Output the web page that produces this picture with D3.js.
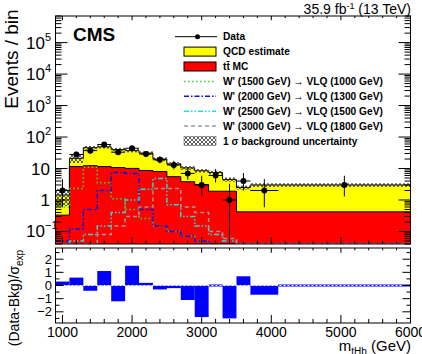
<!DOCTYPE html>
<html><head><meta charset="utf-8">
<script src="https://cdn.jsdelivr.net/npm/d3@7"></script>
<style>
body{margin:0;background:#fff;}
svg{display:block;font-family:"Liberation Sans",Arial,Helvetica,sans-serif;}
</style></head>
<body><svg id="c" width="422" height="354"></svg>
<script>
// ---------- data ----------
const binEdges = [900,1100,1300,1500,1700,1900,2100,2300,2500,2700,2900,3100,3300,3500,3700,4100,6000];
const ttbarMC  = [0.33,11.5,12.3,11.5,10.7,10.1,8.6,8.0,5.5,3.8,3.1,1.9,1.9,0.42,0.42,0.42];
const totalBkg = [1.44,21,46,49,40,37,31,20,14,10.5,8.5,7.5,4.5,2.5,3.0,3.0];
const bkgUnc   = [0.8,6,6,6,5,4.5,4,2.6,1.8,1.4,1.1,1.0,0.7,0.35,0.4,0.4];
const dataObs  = [2,28,37,58,33,44,29,19,13,7,3,6,1,4,2,3];
const dataErrLo= [1.41,5.3,6.1,7.6,5.7,6.6,5.4,4.4,3.6,2.6,1.7,2.4,1.0,2.0,1.41,1.7];
const dataErrHi= [2.6,6.3,7.1,8.7,6.8,7.7,6.4,5.4,4.7,3.8,2.9,3.6,2.3,3.2,2.6,2.9];
const dataXErr = [100,100,100,100,100,100,100,100,100,100,100,100,100,100,200,0];
const sigW1500 = [0.6,2.3,11,3.5,1.1,0.5,0.26,0.15,0.1,0.07,0.05,0.04,0.03,0.03,0.03,0.03];
const sigW2000 = [0.05,0.12,0.5,2.0,7.5,7.0,0.5,0.15,0.1,0.07,0.05,0.04,0.03,0.03,0.03,0.03];
const sigW2500 = [0.03,0.05,0.08,0.15,0.4,1.0,2.2,4.8,0.7,0.3,0.15,0.08,0.05,0.03,0.03,0.03];
const sigW3000 = [0.03,0.03,0.04,0.08,0.15,0.3,0.6,2.3,2.3,0.6,0.4,0.1,0.06,0.04,0.03,0.03];
const pulls    = [0.3,0.6,-0.4,1.1,-1.2,1.5,0.2,-0.3,-0.2,-1.1,-2.4,0,-2.5,0.7,-0.7,0];
const yTickExp = [-1,0,1,2,3,4,5];
const xTicks   = [1000,2000,3000,4000,5000,6000];
const pullTicks= [-2,-1,0,1,2];
const legendEntries = [
  {label:"Data", kind:"data"},
  {label:"QCD estimate", kind:"box", fill:"#ffff00"},
  {label:"tt\u0304 MC", kind:"box", fill:"#ff0000"},
  {label:"W' (1500 GeV) \u2192 VLQ (1000 GeV)", kind:"line", color:"#33dd33", dash:"1.5,2.5"},
  {label:"W' (2000 GeV) \u2192 VLQ (1300 GeV)", kind:"line", color:"#1010d0", dash:"5,2,1.5,2"},
  {label:"W' (2500 GeV) \u2192 VLQ (1500 GeV)", kind:"line", color:"#22dddd", dash:"5,2,1.5,2,1.5,2"},
  {label:"W' (3000 GeV) \u2192 VLQ (1800 GeV)", kind:"line", color:"#999999", dash:"4,3"},
  {label:"1 \u03c3 background uncertainty", kind:"hatch"}
];
const signals = [
  {vals:sigW1500, color:"#33dd33", dash:"1.5,2.5"},
  {vals:sigW2000, color:"#1010d0", dash:"5,2,1.5,2"},
  {vals:sigW2500, color:"#22dddd", dash:"5,2,1.5,2,1.5,2"},
  {vals:sigW3000, color:"#999999", dash:"4,3"}
];

// ---------- layout ----------
const L = 55.5, R = 410.5;
const upTop = 16, upBot = 244;
const loTop = 248, loBot = 323;

const svg = d3.select("#c");
const x = d3.scaleLinear().domain([900,6000]).range([L,R]);
const y = d3.scaleLog().domain([0.04,7e5]).range([upBot,upTop]).clamp(true);
const yp = d3.scaleLinear().domain([-2.85,2.85]).range([loBot,loTop]);

const defs = svg.append("defs");
const pat = defs.append("pattern").attr("id","hatch").attr("patternUnits","userSpaceOnUse")
  .attr("width",4).attr("height",4);
pat.append("path").attr("d","M0,0 L4,4 M4,0 L0,4").attr("stroke","#333").attr("stroke-width",0.8);
defs.append("clipPath").attr("id","clipUp").append("rect")
  .attr("x",L).attr("y",upTop).attr("width",R-L).attr("height",upBot-upTop);
defs.append("clipPath").attr("id","clipLo").append("rect")
  .attr("x",L).attr("y",loTop).attr("width",R-L).attr("height",loBot-loTop);

const bins = d3.range(binEdges.length-1).map(i=>({i, x0:binEdges[i], x1:binEdges[i+1]}));
function stepPts(vals){
  const p = bins.map(b=>[b.x0, vals[b.i]]);
  p.push([binEdges[binEdges.length-1], vals[vals.length-1]]);
  return p;
}
const stepLine = d3.line().x(d=>x(d[0])).y(d=>y(d[1])).curve(d3.curveStepAfter);
const stepArea = d3.area().x(d=>x(d[0])).y0(upBot).y1(d=>y(d[1])).curve(d3.curveStepAfter);

const gUp = svg.append("g").attr("clip-path","url(#clipUp)");
gUp.append("path").datum(stepPts(totalBkg)).attr("d",stepArea).attr("fill","#ffff00");
gUp.append("path").datum(stepPts(ttbarMC)).attr("d",stepArea).attr("fill","#ff0000");
gUp.append("path").datum(stepPts(ttbarMC)).attr("d",stepLine).attr("fill","none").attr("stroke","#000").attr("stroke-width",1);
gUp.append("path").datum(stepPts(totalBkg)).attr("d",stepLine).attr("fill","none").attr("stroke","#000").attr("stroke-width",1);
signals.forEach(s=>{
  gUp.append("path").datum(stepPts(s.vals)).attr("d",stepLine).attr("fill","none")
    .attr("stroke",s.color).attr("stroke-width",1.5).attr("stroke-dasharray",s.dash);
});
gUp.selectAll("rect.unc").data(bins).enter().append("rect").attr("class","unc")
  .attr("x",b=>x(b.x0)).attr("width",b=>x(b.x1)-x(b.x0))
  .attr("y",b=>y(totalBkg[b.i]+bkgUnc[b.i]))
  .attr("height",b=>y(Math.max(totalBkg[b.i]-bkgUnc[b.i],0.04))-y(totalBkg[b.i]+bkgUnc[b.i]))
  .attr("fill","url(#hatch)");
// data
const gD = gUp.append("g");
bins.forEach(b=>{
  const c = (b.x0+b.x1)/2, v = dataObs[b.i];
  const cx = x(c), cy = y(v);
  gD.append("line").attr("x1",cx).attr("x2",cx).attr("y1",y(v+dataErrHi[b.i]))
    .attr("y2",y(Math.max(v-dataErrLo[b.i],1e-6))).attr("stroke","#000").attr("stroke-width",1);
  if(dataXErr[b.i]>0) gD.append("line").attr("x1",x(c-dataXErr[b.i])).attr("x2",x(c+dataXErr[b.i]))
    .attr("y1",cy).attr("y2",cy).attr("stroke","#000").attr("stroke-width",1);
  gD.append("circle").attr("cx",cx).attr("cy",cy).attr("r",3).attr("fill","#000");
});

// ratio panel
const gLo = svg.append("g").attr("clip-path","url(#clipLo)");
gLo.selectAll("rect.pull").data(bins).enter().append("rect").attr("class","pull")
  .attr("x",b=>x(b.x0)).attr("width",b=>x(b.x1)-x(b.x0))
  .attr("y",b=>Math.min(yp(pulls[b.i]),yp(0))-(pulls[b.i]===0?1:0))
  .attr("height",b=>Math.max(Math.abs(yp(pulls[b.i])-yp(0)),2))
  .attr("fill","#0000ff");
gLo.append("line").attr("x1",L).attr("x2",R).attr("y1",yp(0)).attr("y2",yp(0))
  .attr("stroke","#fff").attr("stroke-width",1).attr("stroke-dasharray","2,2");

// ---------- axes/frames ----------
function frame(t,b){
  svg.append("rect").attr("x",L).attr("y",t).attr("width",R-L).attr("height",b-t)
    .attr("fill","none").attr("stroke","#000").attr("stroke-width",1);
}
frame(upTop,upBot); frame(loTop,loBot);
const tk = svg.append("g").attr("stroke","#000").attr("stroke-width",1);
function xTickMarks(t,b,maj,min){
  d3.range(1000,6001,200).concat([900]).forEach(v=>{
    const isMaj = v%1000===0, len = isMaj?maj:min, px = x(v);
    tk.append("line").attr("x1",px).attr("x2",px).attr("y1",b).attr("y2",b-len);
    tk.append("line").attr("x1",px).attr("x2",px).attr("y1",t).attr("y2",t+len*0.6);
  });
}
xTickMarks(upTop,upBot,7,3.5);
xTickMarks(loTop,loBot,8,4);
// log y ticks
for(let e=-2;e<=5;e++){
  for(let m=1;m<=9;m++){
    const v = m*Math.pow(10,e);
    if(v<0.04||v>7e5) continue;
    const py = y(v), len = m===1?12:6;
    tk.append("line").attr("x1",L).attr("x2",L+len).attr("y1",py).attr("y2",py);
    tk.append("line").attr("x1",R).attr("x2",R-len).attr("y1",py).attr("y2",py);
  }
}
d3.range(-2.5,2.6,0.5).forEach(v=>{
  const py = yp(v), len = Number.isInteger(v)?8:4;
  tk.append("line").attr("x1",L).attr("x2",L+len).attr("y1",py).attr("y2",py);
  tk.append("line").attr("x1",R).attr("x2",R-len).attr("y1",py).attr("y2",py);
});

// y tick labels (upper)
yTickExp.forEach(e=>{
  const t = svg.append("text").attr("x",e===0||e===1?50:45).attr("y",y(Math.pow(10,e))+6)
    .attr("text-anchor","end").attr("font-size",17);
  if(e===0) t.text("1");
  else if(e===1) t.text("10");
  else {
    t.text("10");
    svg.append("text").attr("x",45).attr("y",y(Math.pow(10,e))-2).attr("font-size",11)
      .text(e<0?"\u2212"+(-e):String(e));
  }
});
// pull labels
pullTicks.forEach(v=>{
  svg.append("text").attr("x",52).attr("y",yp(v)+4.5).attr("text-anchor","end").attr("font-size",13)
    .text(v<0?"\u2212"+(-v):String(v));
});
// x labels
xTicks.forEach(v=>{
  svg.append("text").attr("x",x(v)).attr("y",337).attr("text-anchor","middle").attr("font-size",14).text(v);
});
// axis titles
svg.append("text").attr("transform","translate(18,59) rotate(-90)").attr("text-anchor","middle")
  .attr("font-size",19).text("Events / bin");
const pt = svg.append("text").attr("transform","translate(19,298) rotate(-90)").attr("text-anchor","middle")
  .attr("font-size",14);
pt.append("tspan").text("(Data-Bkg)/\u03c3");
pt.append("tspan").attr("font-size",10).attr("dy",4).text("exp");
const xt = svg.append("text").attr("x",411).attr("y",351).attr("text-anchor","end").attr("font-size",15);
xt.append("tspan").text("m");
xt.append("tspan").attr("font-size",10).attr("dy",4).text("tHb");
xt.append("tspan").attr("dy",-4).text(" (GeV)");
// CMS + lumi
svg.append("text").attr("x",73).attr("y",41).attr("font-size",19).attr("font-weight","bold").text("CMS");
const lt = svg.append("text").attr("x",411).attr("y",14).attr("text-anchor","end").attr("font-size",14);
lt.append("tspan").text("35.9 fb");
lt.append("tspan").attr("font-size",9).attr("dy",-5).text("-1");
lt.append("tspan").attr("dy",5).text(" (13 TeV)");

// legend
const lg = svg.append("g");
legendEntries.forEach((e,i)=>{
  const cy = 36.7 + i*14.9;
  const g = lg.append("g");
  if(e.kind==="data"){
    g.append("line").attr("x1",175).attr("x2",217).attr("y1",cy).attr("y2",cy).attr("stroke","#000");
    g.append("circle").attr("cx",197.5).attr("cy",cy).attr("r",2.5).attr("fill","#000");
  } else if(e.kind==="box"){
    g.append("rect").attr("x",184).attr("y",cy-4.5).attr("width",32).attr("height",9)
      .attr("fill",e.fill).attr("stroke","#000").attr("stroke-width",1);
  } else if(e.kind==="line"){
    g.append("line").attr("x1",184).attr("x2",216).attr("y1",cy).attr("y2",cy)
      .attr("stroke",e.color).attr("stroke-width",1.5).attr("stroke-dasharray",e.dash);
  } else {
    g.append("rect").attr("x",184).attr("y",cy-4.5).attr("width",32).attr("height",9)
      .attr("fill","url(#hatch)").attr("stroke","#555").attr("stroke-width",0.5);
  }
  g.append("text").attr("x",223).attr("y",cy+3.7).attr("font-size",10.2).attr("font-weight","bold").text(e.label);
});
</script></body></html>
